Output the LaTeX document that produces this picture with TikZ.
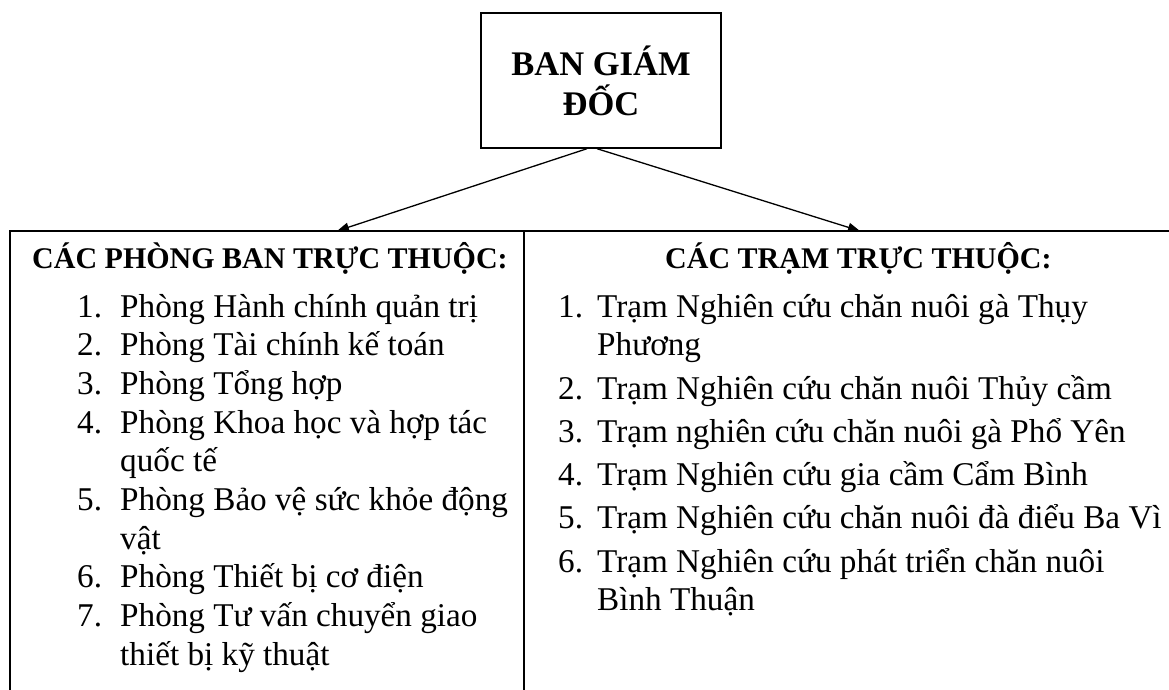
\documentclass[tikz,border=0pt]{standalone}
\usepackage{fontspec}
\setmainfont{Liberation Serif}
\usetikzlibrary{arrows.meta}
\tikzset{
  rule/.style={line width=1.4pt, black},
  conn/.style={line width=1.3pt, -{Triangle[length=12pt,width=9pt]}},
  body/.style={anchor=base west, inner sep=0pt, font=\fontsize{33.2}{38}\selectfont},
  head/.style={anchor=base west, inner sep=0pt, font=\bfseries\fontsize{30}{36}\selectfont},
  topbox/.style={draw, line width=1.4pt, minimum width=240pt, minimum height=135pt, inner sep=0pt, align=center, font=\bfseries\fontsize{34.5}{40}\selectfont}
}
\begin{document}
\begin{tikzpicture}[x=1pt, y=-1pt]
\useasboundingbox (0,0) rectangle (1169,690);
% top box
\node[topbox] (gd) at (601,80.5) {BAN GIÁM\\ĐỐC};
% table frame
\coordinate (tl) at (10,231);
\coordinate (tr) at (1169,231);
\coordinate (bl) at (10,690);
\coordinate (dt) at (524,231);
\coordinate (db) at (524,690);
\draw[rule] (bl) -- (tl) -- (tr);
\draw[rule] (dt) -- (db);
% arrow targets
\coordinate (lt) at (337,231);
\coordinate (rt) at (860,231);
\draw[conn] ([xshift=-14pt]gd.south) -- (lt);
\draw[conn] ([xshift=-4pt]gd.south) -- (rt);
% left column
\node[head] (lh) at (32,268) {CÁC PHÒNG BAN TRỰC THUỘC:};
\node[body] (ln1) at (77,317) {1.};
\node[body] (lt1) at (120,317) {Phòng Hành chính quản trị};
\node[body] (ln2) at (77,355.7) {2.};
\node[body] (lt2) at (120,355.7) {Phòng Tài chính kế toán};
\node[body] (ln3) at (77,394.4) {3.};
\node[body] (lt3) at (120,394.4) {Phòng Tổng hợp};
\node[body] (ln4) at (77,433.1) {4.};
\node[body] (lt4) at (120,433.1) {Phòng Khoa học và hợp tác};
\node[body] (lt4b) at (120,471.8) {quốc tế};
\node[body] (ln5) at (77,510.5) {5.};
\node[body] (lt5) at (120,510.5) {Phòng Bảo vệ sức khỏe động};
\node[body] (lt5b) at (120,549.2) {vật};
\node[body] (ln6) at (77,587.9) {6.};
\node[body] (lt6) at (120,587.9) {Phòng Thiết bị cơ điện};
\node[body] (ln7) at (77,626.6) {7.};
\node[body] (lt7) at (120,626.6) {Phòng Tư vấn chuyển giao};
\node[body] (lt7b) at (120,665.3) {thiết bị kỹ thuật};
% right column
\node[head] (rh) at (665,268) {CÁC TRẠM TRỰC THUỘC:};
\node[body] (rn1) at (558,317) {1.};
\node[body] (rt1) at (597,317) {Trạm Nghiên cứu chăn nuôi gà Thụy};
\node[body] (rt1b) at (597,355.7) {Phương};
\node[body] (rn2) at (558,399) {2.};
\node[body] (rt2) at (597,399) {Trạm Nghiên cứu chăn nuôi Thủy cầm};
\node[body] (rn3) at (558,442.3) {3.};
\node[body] (rt3) at (597,442.3) {Trạm nghiên cứu chăn nuôi gà Phổ Yên};
\node[body] (rn4) at (558,485.6) {4.};
\node[body] (rt4) at (597,485.6) {Trạm Nghiên cứu gia cầm Cẩm Bình};
\node[body] (rn5) at (558,528.9) {5.};
\node[body] (rt5) at (597,528.9) {Trạm Nghiên cứu chăn nuôi đà điểu Ba Vì};
\node[body] (rn6) at (558,572.2) {6.};
\node[body] (rt6) at (597,572.2) {Trạm Nghiên cứu phát triển chăn nuôi};
\node[body] (rt6b) at (597,610.9) {Bình Thuận};
\end{tikzpicture}
\end{document}
